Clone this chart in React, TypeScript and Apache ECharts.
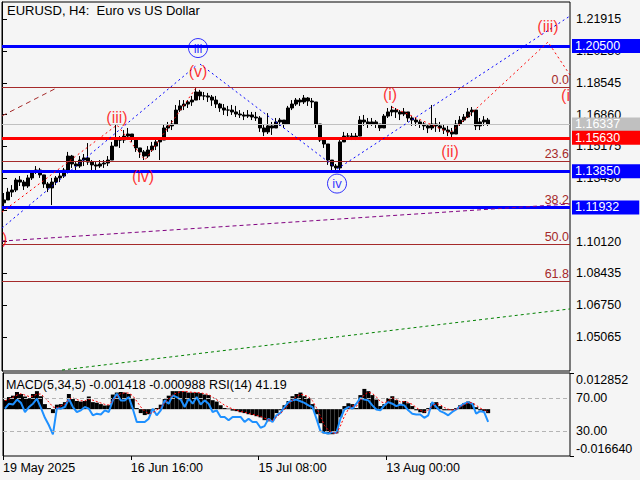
import React, { useEffect, useRef } from "react";
import * as echarts from "echarts";

const FONT = "'Liberation Sans', Arial, sans-serif";

// ---- time axis (one H4 bar per pixel, prices sampled every 4 bars) ----
const firstBar = 2;
const barStep = 4;
const lastBar = 568;
const timeTickBars = [0, 128, 256, 384];
const timeTickLabels = ["19 May 2025", "16 Jun 16:00", "15 Jul 08:00", "13 Aug 00:00"];

// ---- price axis ----
const priceMin = 1.03257;
const priceMax = 1.22833;
const priceTicks = [1.05065, 1.0675, 1.08435, 1.1012, 1.11805, 1.1349, 1.15175, 1.1686, 1.18545, 1.2023, 1.21915];

// ---- EURUSD H4 prices ----
const firstOpen = 1.1218;
const closes = [
  1.1233, 1.1275, 1.1286, 1.1339, 1.1328, 1.1307, 1.135, 1.1381, 1.1392, 1.1366,
  1.1318, 1.1297, 1.1328, 1.135, 1.136, 1.1392, 1.1466, 1.1424, 1.1413, 1.1445,
  1.1456, 1.1434, 1.1419, 1.1413, 1.1424, 1.1429, 1.1445, 1.1519, 1.1551, 1.1551,
  1.1572, 1.1583, 1.1562, 1.1509, 1.1488, 1.1466, 1.1498, 1.1519, 1.1541, 1.1551,
  1.1615, 1.1626, 1.1636, 1.171, 1.1732, 1.1742, 1.1753, 1.1763, 1.1806, 1.1785,
  1.1785, 1.1779, 1.1763, 1.1742, 1.1721, 1.171, 1.171, 1.17, 1.1689, 1.1684,
  1.1678, 1.1684, 1.1673, 1.1668, 1.1615, 1.1594, 1.1626, 1.1615, 1.1647, 1.1657,
  1.1636, 1.1721, 1.1742, 1.1763, 1.1753, 1.1774, 1.1758, 1.1753, 1.1636, 1.1551,
  1.153, 1.1445, 1.1413, 1.1403, 1.1541, 1.1572, 1.1572, 1.1567, 1.1572, 1.1657,
  1.1647, 1.1636, 1.1647, 1.1636, 1.1615, 1.1678, 1.17, 1.171, 1.17, 1.1689,
  1.17, 1.1668, 1.1657, 1.1647, 1.1636, 1.1626, 1.1615, 1.1636, 1.1626, 1.1615,
  1.1604, 1.1594, 1.1583, 1.1636, 1.1657, 1.1673, 1.17, 1.171, 1.1626, 1.1647,
  1.1657, 1.16337,
];
const highs = [
  1.127, 1.1297, 1.1312, 1.135, 1.136, 1.1339, 1.1366, 1.1392, 1.1413, 1.1403,
  1.136, 1.1328, 1.135, 1.136, 1.1381, 1.1403, 1.1488, 1.1472, 1.1434, 1.1466,
  1.1477, 1.1535, 1.1445, 1.1434, 1.1445, 1.1445, 1.1466, 1.1541, 1.1631, 1.1572,
  1.1604, 1.1615, 1.1583, 1.1551, 1.1509, 1.1498, 1.1519, 1.1541, 1.1562, 1.1567,
  1.1631, 1.1647, 1.1657, 1.1737, 1.1763, 1.1763, 1.1763, 1.1785, 1.1827, 1.1817,
  1.1806, 1.1801, 1.179, 1.1785, 1.1748, 1.1742, 1.1732, 1.1737, 1.1732, 1.171,
  1.17, 1.171, 1.17, 1.17, 1.1678, 1.1636, 1.1694, 1.1647, 1.1668, 1.1668,
  1.1657, 1.1732, 1.1763, 1.1774, 1.1774, 1.179, 1.1779, 1.1774, 1.1753, 1.1615,
  1.1562, 1.1525, 1.1445, 1.1424, 1.1551, 1.1594, 1.1588, 1.1588, 1.1588, 1.1678,
  1.1684, 1.1668, 1.1668, 1.1657, 1.1636, 1.1689, 1.1721, 1.1732, 1.1721, 1.171,
  1.1721, 1.17, 1.1678, 1.1668, 1.1657, 1.1647, 1.1636, 1.1737, 1.1668, 1.1647,
  1.1636, 1.1626, 1.1615, 1.1657, 1.1678, 1.1689, 1.1721, 1.1726, 1.17, 1.1668,
  1.1678, 1.1668,
];
const lows = [
  1.118, 1.1233, 1.1249, 1.1275, 1.1307, 1.1286, 1.1297, 1.1339, 1.1371, 1.135,
  1.1297, 1.1275, 1.1206, 1.1312, 1.1328, 1.135, 1.1413, 1.1403, 1.1376, 1.1403,
  1.1413, 1.1419, 1.1392, 1.1392, 1.1403, 1.1403, 1.1413, 1.1466, 1.1525, 1.1509,
  1.1535, 1.1551, 1.1541, 1.1488, 1.1456, 1.1445, 1.1456, 1.1488, 1.1498, 1.1445,
  1.1578, 1.1594, 1.1604, 1.1668, 1.17, 1.171, 1.1721, 1.1732, 1.1774, 1.1763,
  1.1763, 1.1753, 1.1732, 1.1721, 1.17, 1.1684, 1.1678, 1.1684, 1.1673, 1.1668,
  1.1657, 1.1668, 1.1657, 1.1652, 1.1594, 1.1572, 1.1583, 1.1578, 1.1615, 1.1626,
  1.1615, 1.1647, 1.171, 1.1732, 1.1732, 1.1742, 1.1732, 1.1721, 1.1615, 1.1541,
  1.1509, 1.1419, 1.1392, 1.1381, 1.1392, 1.1541, 1.1551, 1.1551, 1.1551, 1.1594,
  1.1626, 1.1615, 1.1626, 1.1615, 1.1599, 1.1626, 1.1668, 1.1678, 1.1668, 1.1657,
  1.1678, 1.1647, 1.1626, 1.1626, 1.1615, 1.1604, 1.1588, 1.1604, 1.1594, 1.1594,
  1.1583, 1.1572, 1.1562, 1.1594, 1.1626, 1.1647, 1.1668, 1.1678, 1.1604, 1.1604,
  1.1626, 1.1626,
];

// ---- horizontal levels ----
const levelPrices = [1.205, 1.1563, 1.1385, 1.11932];
const levelColors = ["#0000ff", "#ff0000", "#0000ff", "#0000ff"];
const currentPrice = 1.16337;
const fibPrices = [1.18308, 1.14377, 1.11945, 1.09979, 1.08013];
const fibLabels = ["0.0", "23.6", "38.2", "50.0", "61.8"];

// ---- wave / trend lines: [bar, price] ----
const waveBlue1 = [[0, 1.1084], [195, 1.1949]];
const waveBlue2 = [[198, 1.1954], [333, 1.1408]];
const waveBlue3 = [[335, 1.1397], [568, 1.2209]];
const waveRed1 = [[0, 1.1169], [115, 1.1631], [143, 1.1445], [194, 1.1827]];
const waveRed2 = [[390, 1.1726], [448, 1.1588], [546, 1.2071], [568, 1.1896]];
const fibTrend = [[0, 1.1679], [56, 1.1831]];
const purpleTrend = [[0, 1.1015], [568, 1.1212]];
const greenTrend = [[60, 1.0331], [568, 1.0655]];

// ---- wave labels ----
const waveLabelTexts = ["iii", "(v)", "(iii)", "(iv)", "iv", "(i)", "(ii)", "(iii)"];
const waveLabelBars = [196, 196, 115, 141, 335, 388, 448, 546];
const waveLabelPrices = [1.2039, 1.1912, 1.1668, 1.1355, 1.132, 1.1795, 1.1488, 1.2151];
const waveLabelCircled = [true, false, false, false, true, false, false, false];
const edgeLabelTexts = ["(i", ")"];
const edgeLabelBars = [568, 0];
const edgeLabelPrices = [1.1786, 1.1031];
const edgeLabelAlign = ["right", "left"];

// ---- indicators ----
const macdMin = -0.01664;
const macdMax = 0.012852;
const rsiLevels = [30, 70];
const macdLast = -0.001418;
const signalLast = -0.000988;
const rsiLast = 41.19;
const macdHist = [
  0.0032, 0.0043, 0.0048, 0.0061, 0.0054, 0.0045, 0.0039, 0.0054, 0.0064, 0.0046,
  0.0018, 0.0004, -0.0014, 0.0016, 0.0018, 0.0025, 0.0054, 0.0036, 0.0029, 0.0027,
  0.0029, 0.0045, 0.0025, 0.0023, 0.0018, 0.0013, 0.0014, 0.0052, 0.0059, 0.0061,
  0.0059, 0.0054, 0.0038, 0.0004, -0.0014, -0.0021, -0.0018, -0.0004, 0.0004, 0.0016,
  0.0036, 0.0048, 0.0064, 0.0064, 0.0064, 0.0063, 0.0059, 0.0059, 0.0059, 0.0057,
  0.0052, 0.005, 0.0032, 0.0027, 0.0014, 0.0004, 0.0002, -0.0005, -0.0007, -0.0011,
  -0.0014, -0.0018, -0.0021, -0.0025, -0.0029, -0.0039, -0.0043, -0.0039, -0.0014, -0.0004,
  0.0014, 0.0029, 0.0046, 0.0054, 0.0059, 0.0046, 0.0039, 0.0018, -0.0018, -0.005,
  -0.0086, -0.0089, -0.0089, -0.0086, -0.0029, 0.0011, 0.0021, 0.0018, 0.0004, 0.005,
  0.0072, 0.0064, 0.005, 0.0034, 0.0011, 0.0018, 0.0039, 0.0046, 0.0032, 0.0018,
  0.0029, 0.0021, 0.0011, -0.0004, -0.0011, -0.0014, 0.0004, 0.0021, 0.0025, 0.0011,
  -0.0004, -0.0004, -0.0004, 0.0004, 0.0014, 0.0021, 0.0027, 0.0021, 0.0007, -0.0004,
  -0.0007, -0.001418,
];
const macdSignal = [
  0.003, 0.0036, 0.0042, 0.005, 0.0055, 0.005, 0.0045, 0.0046, 0.0053, 0.0054,
  0.004, 0.0025, 0.0008, 0.0004, 0.0012, 0.0018, 0.0036, 0.004, 0.0034, 0.003,
  0.0029, 0.0036, 0.0032, 0.0027, 0.0022, 0.0017, 0.0015, 0.003, 0.0045, 0.0055,
  0.0058, 0.0057, 0.0048, 0.0028, 0.0008, -0.0008, -0.0016, -0.0012, -0.0003, 0.0008,
  0.0022, 0.0036, 0.005, 0.0058, 0.0062, 0.0063, 0.0061, 0.006, 0.0059, 0.0058,
  0.0055, 0.0052, 0.0042, 0.0034, 0.0024, 0.0014, 0.0007, 0.0001, -0.0004, -0.0008,
  -0.0011, -0.0015, -0.0018, -0.0022, -0.0026, -0.0032, -0.0038, -0.004, -0.0028, -0.0015,
  0.0, 0.0015, 0.0032, 0.0045, 0.0053, 0.005, 0.0044, 0.003, 0.0005, -0.0025,
  -0.0058, -0.0075, -0.0084, -0.0087, -0.006, -0.0025, 0.0, 0.0012, 0.001, 0.003,
  0.0052, 0.006, 0.0056, 0.0044, 0.0027, 0.0022, 0.003, 0.004, 0.0036, 0.0026,
  0.0027, 0.0024, 0.0017, 0.0006, -0.0004, -0.001, -0.0004, 0.0012, 0.002, 0.0016,
  0.0006, 0.0, -0.0003, 0.0, 0.0008, 0.0016, 0.0023, 0.0023, 0.0014, 0.0004,
  -0.0003, -0.000988,
];
const rsi = [
  57, 63, 62, 68, 64, 53, 59, 63, 69, 58,
  46, 37, 26, 58, 57, 59, 69, 59, 53, 55,
  59, 57, 49, 51, 50, 55, 53, 67, 75, 67,
  67, 71, 57, 41, 41, 41, 45, 57, 49, 55,
  67, 63, 73, 71, 68, 59, 69, 63, 71, 62,
  67, 63, 53, 55, 47, 47, 43, 47, 47, 47,
  41, 45, 41, 41, 34, 36, 45, 41, 49, 52,
  59, 65, 67, 68, 66, 64, 61, 59, 45, 30,
  28, 27, 29, 28, 45, 56, 59, 57, 63, 70,
  68, 67, 61, 56, 55, 61, 65, 63, 60, 62,
  61, 55, 51, 50, 50, 46, 49, 65, 59, 54,
  52, 49, 53, 56, 60, 63, 65, 63, 51, 54,
  53, 41.19,
];

const chartTitle = "EURUSD, H4:  Euro vs US Dollar";

function buildOption() {
  const barAt = (k: number) => firstBar + k * barStep;
  const candles = closes.map((c, k) => [barAt(k), k === 0 ? firstOpen : closes[k - 1], c, lows[k], highs[k]]);
  const indicatorTitle = `MACD(5,34,5) ${macdLast.toFixed(6)} ${signalLast.toFixed(6)} RSI(14) ${rsiLast.toFixed(2)}`;

  const lineSeries = (data: number[][], color: string, type: any, xi = 0, yi = 0, width = 1) => ({
    type: "line",
    xAxisIndex: xi,
    yAxisIndex: yi,
    data,
    showSymbol: false,
    symbol: "none",
    silent: true,
    lineStyle: { color, width, type },
    z: 5,
  });

  const markData: any[] = [];
  fibPrices.forEach((p, j) => {
    markData.push({
      yAxis: p,
      lineStyle: { color: "#a52a2a", width: 1, type: "solid" },
      label: { show: true, position: "insideEndTop", formatter: fibLabels[j], color: "#a52a2a", distance: 1, fontSize: 12.5, fontFamily: FONT },
    });
  });
  markData.push({
    yAxis: currentPrice,
    lineStyle: { color: "#c0c0c0", width: 1, type: "solid" },
    label: { show: true, position: "end", formatter: currentPrice.toFixed(5), color: "#fff", backgroundColor: "#c0c0c0", padding: [1, 20, 0, 3], lineHeight: 13, distance: 2, fontSize: 12.5, fontFamily: FONT },
  });
  levelPrices.forEach((p, j) => {
    markData.push({
      yAxis: p,
      lineStyle: { color: levelColors[j], width: 3, type: "solid" },
      label: { show: true, position: "end", formatter: p.toFixed(5), color: "#fff", backgroundColor: levelColors[j], padding: [1, 20, 0, 3], lineHeight: 13, distance: 2, fontSize: 12.5, fontFamily: FONT },
    });
  });

  const labelData: any[] = waveLabelTexts.map((t, j) => ({
    value: [waveLabelBars[j], waveLabelPrices[j]],
    symbol: "circle",
    symbolSize: waveLabelCircled[j] ? 19 : 1,
    itemStyle: { color: "rgba(0,0,0,0)", borderColor: waveLabelCircled[j] ? "#0000ff" : "rgba(0,0,0,0)", borderWidth: 1 },
    label: { show: true, position: "inside", formatter: t, color: waveLabelCircled[j] ? "#0000ff" : "#ff0000", fontSize: waveLabelCircled[j] ? 13 : 16, fontFamily: FONT },
  }));
  edgeLabelTexts.forEach((t, j) => {
    labelData.push({
      value: [edgeLabelBars[j], edgeLabelPrices[j]],
      symbol: "circle",
      symbolSize: 1,
      itemStyle: { color: "rgba(0,0,0,0)" },
      label: { show: true, position: "inside", align: edgeLabelAlign[j], formatter: t, color: "#ff0000", fontSize: 16, fontFamily: FONT },
    });
  });

  const axisText = { color: "#000", fontSize: 12.5, fontFamily: FONT };

  return {
    animation: false,
    backgroundColor: "#f5f5f5",
    textStyle: { fontFamily: FONT },
    title: [
      { text: chartTitle, left: 7, top: 4, padding: 0, textStyle: { ...axisText, fontSize: 13, fontWeight: "normal" } },
      { text: indicatorTitle, left: 6, top: 378, padding: 0, textStyle: { ...axisText, fontWeight: "normal" } },
    ],
    grid: [
      { left: 2, top: 2, width: 568, height: 369, show: true, borderColor: "#000", borderWidth: 1, backgroundColor: "transparent" },
      { left: 2, top: 373, width: 568, height: 83, show: true, borderColor: "#000", borderWidth: 1, backgroundColor: "transparent" },
    ],
    xAxis: [
      { type: "value", gridIndex: 0, min: 0, max: lastBar, show: false },
      {
        type: "value",
        gridIndex: 1,
        min: 0,
        max: lastBar,
        axisLine: { show: false },
        splitLine: { show: false },
        axisTick: { show: true, customValues: timeTickBars, length: 4, lineStyle: { color: "#000" } },
        axisLabel: {
          ...axisText,
          customValues: timeTickBars,
          formatter: (v: number) => timeTickLabels[timeTickBars.indexOf(v)] ?? "",
          align: "left",
          margin: 5,
        },
      },
    ],
    yAxis: [
      {
        type: "value",
        gridIndex: 0,
        position: "right",
        min: priceMin,
        max: priceMax,
        axisLine: { show: true, lineStyle: { color: "#000" } },
        splitLine: { show: false },
        axisTick: { show: true, customValues: priceTicks, length: 5, lineStyle: { color: "#000" } },
        axisLabel: { ...axisText, customValues: priceTicks, formatter: (v: number) => v.toFixed(5), margin: 6 },
      },
      {
        type: "value",
        gridIndex: 1,
        position: "right",
        min: 0,
        max: 100,
        axisLine: { show: true, lineStyle: { color: "#000" } },
        splitLine: { show: false },
        axisTick: { show: true, customValues: rsiLevels, length: 4, lineStyle: { color: "#000" } },
        axisLabel: { ...axisText, customValues: rsiLevels, formatter: (v: number) => v.toFixed(2), margin: 6 },
      },
      {
        type: "value",
        gridIndex: 1,
        position: "right",
        min: macdMin,
        max: macdMax,
        axisLine: { show: false },
        splitLine: { show: false },
        axisTick: { show: true, customValues: [macdMin, macdMax], length: 4, lineStyle: { color: "#000" } },
        axisLabel: {
          customValues: [macdMin, macdMax],
          margin: 6,
          formatter: (v: number) => (v > 0 ? `{t|${v.toFixed(6)}}` : `{b|${v.toFixed(6)}}`),
          rich: {
            t: { ...axisText, padding: [14, 0, 0, 0] },
            b: { ...axisText, padding: [0, 0, 14, 0] },
          },
        },
      },
    ],
    series: [
      {
        type: "candlestick",
        xAxisIndex: 0,
        yAxisIndex: 0,
        data: candles,
        encode: { x: 0, y: [1, 2, 3, 4] },
        barWidth: 3,
        silent: true,
        itemStyle: { color: "#000", color0: "#000", borderColor: "#000", borderColor0: "#000", borderWidth: 1 },
        z: 3,
        markLine: { symbol: ["none", "none"], precision: 6, silent: true, animation: false, data: markData, z: 4 },
      },
      lineSeries(fibTrend, "#a52a2a", [5, 4]),
      lineSeries(purpleTrend, "#800080", [4, 3]),
      lineSeries(greenTrend, "#008000", [3, 3]),
      lineSeries(waveBlue1, "#0000ff", [2, 3]),
      lineSeries(waveBlue2, "#0000ff", [2, 3]),
      lineSeries(waveBlue3, "#0000ff", [2, 3]),
      lineSeries(waveRed1, "#ff0000", [2, 3]),
      lineSeries(waveRed2, "#ff0000", [2, 3]),
      {
        type: "scatter",
        xAxisIndex: 0,
        yAxisIndex: 0,
        data: labelData,
        silent: true,
        clip: false,
        z: 6,
      },
      {
        type: "bar",
        xAxisIndex: 1,
        yAxisIndex: 2,
        data: macdHist.map((v, k) => [barAt(k), v]),
        barWidth: 4,
        silent: true,
        itemStyle: { color: "#000" },
        z: 2,
      },
      {
        type: "line",
        xAxisIndex: 1,
        yAxisIndex: 1,
        data: rsi.map((v, k) => [barAt(k), v]),
        showSymbol: false,
        symbol: "none",
        silent: true,
        lineStyle: { color: "#1e90ff", width: 2 },
        z: 3,
        markLine: {
          symbol: ["none", "none"],
          precision: 4,
          silent: true,
          label: { show: false },
          lineStyle: { color: "#b4b4b4", type: [4, 3], width: 1 },
          data: rsiLevels.map((v) => ({ yAxis: v })),
        },
      },
      {
        type: "line",
        xAxisIndex: 1,
        yAxisIndex: 2,
        data: macdSignal.map((v, k) => [barAt(k), v]),
        showSymbol: false,
        symbol: "none",
        silent: true,
        lineStyle: { color: "#ff0000", width: 1, type: [2, 2] },
        z: 4,
      },
    ],
  };
}

export default function App() {
  const ref = useRef<HTMLDivElement>(null);
  useEffect(() => {
    if (!ref.current) return;
    const chart = echarts.init(ref.current, null, { renderer: "svg" });
    chart.setOption(buildOption() as any);
    return () => chart.dispose();
  }, []);
  return <div ref={ref} style={{ position: "absolute", left: 0, top: 0, width: 640, height: 480 }} />;
}
